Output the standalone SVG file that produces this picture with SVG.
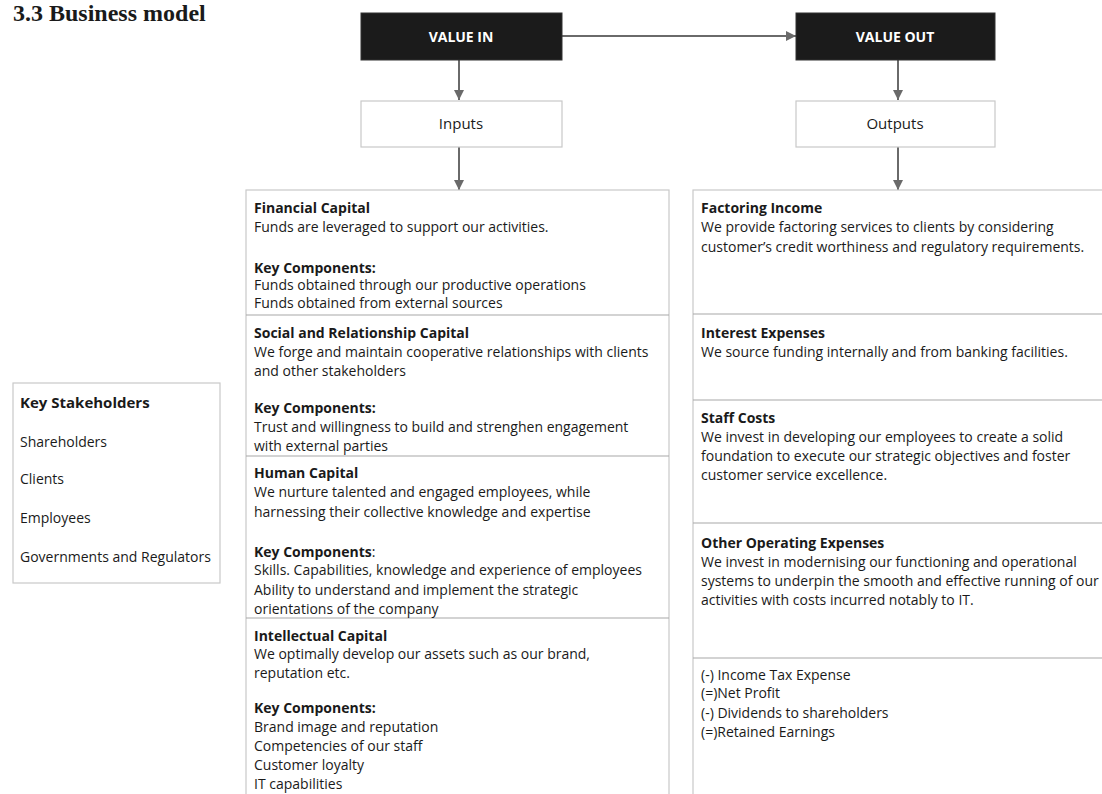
<svg xmlns="http://www.w3.org/2000/svg" width="1102" height="794" viewBox="0 0 1102 794">
<defs>
<marker id="ah" viewBox="0 0 10 10" refX="10" refY="5" markerWidth="10" markerHeight="10" markerUnits="userSpaceOnUse" orient="auto">
<path d="M0,0 L10,5 L0,10 z" fill="#6a6a6a"/>
</marker>
<style>
.dark{fill:#1b1b1b;stroke:#333;stroke-width:1}
.box{fill:#fff;stroke:#c9c9c9;stroke-width:1.2}
.div{stroke:#a8a8a8;stroke-width:1.2}
.conn{stroke:#6a6a6a;stroke-width:2;fill:none;marker-end:url(#ah)}
text{font-family:"Open Sans","Liberation Sans",sans-serif;fill:#1a1a1a}
.t{font-size:14px}
.b{font-size:14px;font-weight:bold}
.hd{font-size:14px;font-weight:bold;fill:#fff}
.lb{font-size:15px}
.title{font-family:"Liberation Serif",serif;font-size:24px;font-weight:bold}
</style>
</defs>
<rect width="1102" height="794" fill="#fff"/>
<text class="title" x="13" y="21">3.3 Business model</text>

<g id="connectors">
<line class="conn" x1="562" y1="36" x2="796" y2="36"/>
<line class="conn" x1="459" y1="60" x2="459" y2="100"/>
<line class="conn" x1="459" y1="147" x2="459" y2="190"/>
<line class="conn" x1="898" y1="60" x2="898" y2="100"/>
<line class="conn" x1="898" y1="147" x2="898" y2="190"/>
</g>

<g id="value-in">
<rect class="dark" x="361" y="13" width="201" height="47"/>
<text class="hd" x="461" y="42" text-anchor="middle">VALUE IN</text>
</g>
<g id="value-out">
<rect class="dark" x="796" y="13" width="199" height="47"/>
<text class="hd" x="895" y="42" text-anchor="middle">VALUE OUT</text>
</g>
<g id="inputs">
<rect class="box" x="361" y="101" width="201" height="46"/>
<text class="lb" x="461" y="129" text-anchor="middle">Inputs</text>
</g>
<g id="outputs">
<rect class="box" x="796" y="101" width="199" height="46"/>
<text class="lb" x="895" y="129" text-anchor="middle">Outputs</text>
</g>

<g id="inputs-panel">
<rect class="box" x="246" y="190" width="423" height="620"/>
<line class="div" x1="246" y1="315" x2="669" y2="315"/>
<line class="div" x1="246" y1="456" x2="669" y2="456"/>
<line class="div" x1="246" y1="618" x2="669" y2="618"/>
</g>
<g id="financial-capital">
<text class="b" x="254" y="213">Financial Capital</text>
<text class="t" x="254" y="232">Funds are leveraged to support our activities.</text>
<text class="b" x="254" y="273">Key Components:</text>
<text class="t" x="254" y="290">Funds obtained through our productive operations</text>
<text class="t" x="254" y="308">Funds obtained from external sources</text>
</g>
<g id="social-capital">
<text class="b" x="254" y="338">Social and Relationship Capital</text>
<text class="t" x="254" y="357">We forge and maintain cooperative relationships with clients</text>
<text class="t" x="254" y="376">and other stakeholders</text>
<text class="b" x="254" y="413">Key Components:</text>
<text class="t" x="254" y="432">Trust and willingness to build and strenghen engagement</text>
<text class="t" x="254" y="451">with external parties</text>
</g>
<g id="human-capital">
<text class="b" x="254" y="478">Human Capital</text>
<text class="t" x="254" y="497">We nurture talented and engaged employees, while</text>
<text class="t" x="254" y="517">harnessing their collective knowledge and expertise</text>
<text class="b" x="254" y="557">Key Components<tspan font-weight="normal">:</tspan></text>
<text class="t" x="254" y="575">Skills. Capabilities, knowledge and experience of employees</text>
<text class="t" x="254" y="595">Ability to understand and implement the strategic</text>
<text class="t" x="254" y="614">orientations of the company</text>
</g>
<g id="intellectual-capital">
<text class="b" x="254" y="641">Intellectual Capital</text>
<text class="t" x="254" y="659">We optimally develop our assets such as our brand,</text>
<text class="t" x="254" y="678">reputation etc.</text>
<text class="b" x="254" y="713">Key Components:</text>
<text class="t" x="254" y="732">Brand image and reputation</text>
<text class="t" x="254" y="751">Competencies of our staff</text>
<text class="t" x="254" y="770">Customer loyalty</text>
<text class="t" x="254" y="789">IT capabilities</text>
</g>

<g id="outputs-panel">
<rect class="box" x="693" y="190" width="420" height="620"/>
<line class="div" x1="693" y1="314" x2="1102" y2="314"/>
<line class="div" x1="693" y1="400" x2="1102" y2="400"/>
<line class="div" x1="693" y1="523" x2="1102" y2="523"/>
<line class="div" x1="693" y1="658" x2="1102" y2="658"/>
</g>
<g id="factoring-income">
<text class="b" x="701" y="213">Factoring Income</text>
<text class="t" x="701" y="232">We provide factoring services to clients by considering</text>
<text class="t" x="701" y="252">customer’s credit worthiness and regulatory requirements.</text>
</g>
<g id="interest-expenses">
<text class="b" x="701" y="338">Interest Expenses</text>
<text class="t" x="701" y="357">We source funding internally and from banking facilities.</text>
</g>
<g id="staff-costs">
<text class="b" x="701" y="423">Staff Costs</text>
<text class="t" x="701" y="442">We invest in developing our employees to create a solid</text>
<text class="t" x="701" y="461">foundation to execute our strategic objectives and foster</text>
<text class="t" x="701" y="480">customer service excellence.</text>
</g>
<g id="other-operating-expenses">
<text class="b" x="701" y="548">Other Operating Expenses</text>
<text class="t" x="701" y="567">We invest in modernising our functioning and operational</text>
<text class="t" x="701" y="586">systems to underpin the smooth and effective running of our</text>
<text class="t" x="701" y="605">activities with costs incurred notably to IT.</text>
</g>
<g id="profit">
<text class="t" x="701" y="680">(-) Income Tax Expense</text>
<text class="t" x="701" y="698">(=)Net Profit</text>
<text class="t" x="701" y="718">(-) Dividends to shareholders</text>
<text class="t" x="701" y="737">(=)Retained Earnings</text>
</g>

<g id="key-stakeholders">
<rect class="box" x="13" y="383" width="207" height="200"/>
<text x="20" y="408" font-size="15px" font-weight="bold">Key Stakeholders</text>
<text class="t" x="20" y="447">Shareholders</text>
<text class="t" x="20" y="484">Clients</text>
<text class="t" x="20" y="523">Employees</text>
<text class="t" x="20" y="562">Governments and Regulators</text>
</g>
</svg>
